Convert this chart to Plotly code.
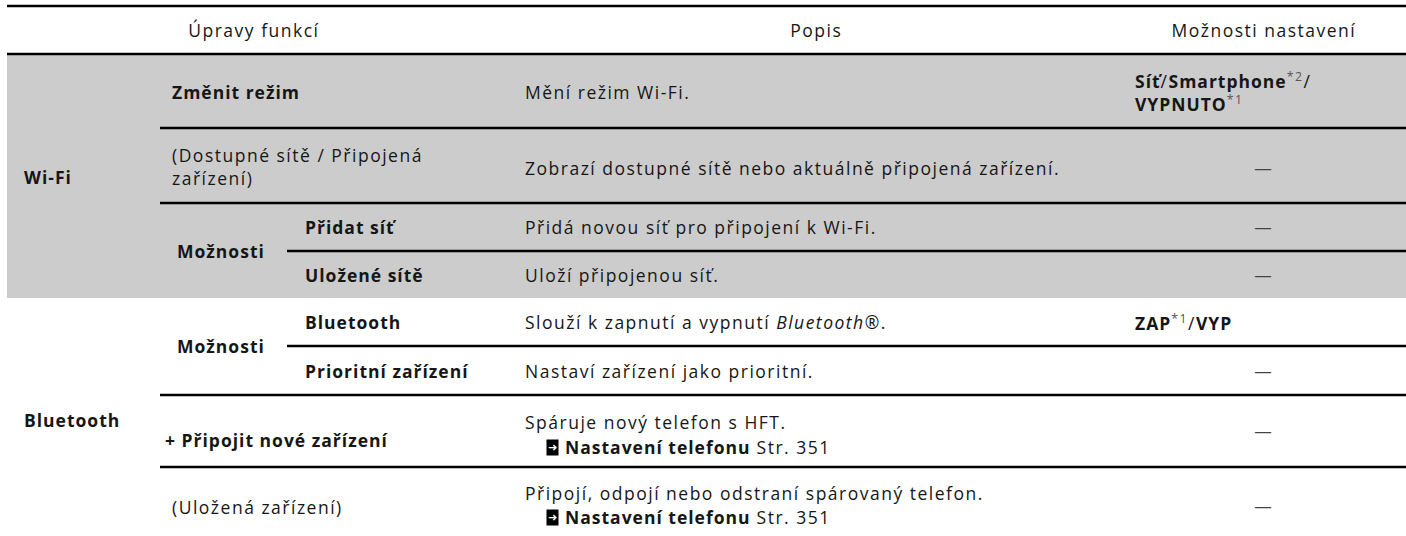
import plotly.graph_objects as go

# ---------------- data (table text) ----------------
header_labels = ["Úpravy funkcí", "Popis", "Možnosti nastavení"]
group_labels = ["Wi-Fi", "Bluetooth"]
item_labels = [
    "<b>Změnit režim</b>",
    "(Dostupné sítě / Připojená<br>zařízení)",
    "<b>Možnosti</b>",
    "<b>Možnosti</b>",
    "<b>+ Připojit nové zařízení</b>",
    "(Uložená zařízení)",
]
subitem_labels = ["Přidat síť", "Uložené sítě", "Bluetooth", "Prioritní zařízení"]
descriptions = [
    "Mění režim Wi-Fi.",
    "Zobrazí dostupné sítě nebo aktuálně připojená zařízení.",
    "Přidá novou síť pro připojení k Wi-Fi.",
    "Uloží připojenou síť.",
    "Slouží k zapnutí a vypnutí <i>Bluetooth</i>®.",
    "Nastaví zařízení jako prioritní.",
    "Spáruje nový telefon s HFT.",
    "Připojí, odpojí nebo odstraní spárovaný telefon.",
]
reference_text = "<b>Nastavení telefonu</b> Str. 351"
settings = [
    "<b>Síť</b>/<b>Smartphone</b><span style='color:#555'><sup>*2</sup></span>/<br><b>VYPNUTO</b><span style='color:#555'><sup>*1</sup></span>",
    "—", "—", "—",
    "<b>ZAP</b><span style='color:#555'><sup>*1</sup></span>/<b>VYP</b>",
    "—", "—", "—",
]

# ---------------- layout geometry ----------------
W, H = 1406, 536
FONT = "Open Sans"
FS = 17.5
TXT = "#161616"
row_edges = [55, 128, 203, 251, 298, 346, 395, 467, 545]
row_mid = [(row_edges[i] + row_edges[i + 1]) / 2 for i in range(8)]
x_left, x_c2, x_c3, x_desc, x_set = 7, 160, 287, 510, 1120
tx_c1, tx_c2, tx_c3, tx_desc, tx_set, tx_dash = 22, 170, 303, 523, 1133, 1264

fig = go.Figure()
fig.add_trace(go.Scatter(x=[0, W], y=[0, H], mode="markers", marker=dict(opacity=0), hoverinfo="skip", showlegend=False))

shapes = []
shapes.append(dict(type="rect", x0=x_left, x1=W, y0=row_edges[0], y1=row_edges[4], fillcolor="#cccccc", line=dict(width=0), layer="below"))
def hline(y, x0):
    shapes.append(dict(type="line", x0=x0, x1=W, y0=y, y1=y, line=dict(color="black", width=2.3)))
hline(6, x_left)
hline(54, x_left)
hline(row_edges[1], x_c2)
hline(row_edges[2], x_c2)
hline(row_edges[3], x_c3)
hline(row_edges[5], x_c3)
hline(row_edges[6], x_c2)
hline(row_edges[7], x_c2)

ann = []
def txt(x, y, s, xanchor="left", size=FS, color=TXT, **kw):
    ann.append(dict(x=x, y=y, xref="x", yref="y", text=s, showarrow=False, xanchor=xanchor, yanchor="middle",
                    align="left" if xanchor == "left" else "center", font=dict(family=FONT, size=size, color=color), **kw))

# headers
txt(254, 30, header_labels[0], "center")
txt(816, 30, header_labels[1], "center")
txt(1264, 30, header_labels[2], "center")

# groups
txt(tx_c1, 177, "<b>" + group_labels[0] + "</b>")
txt(tx_c1, 420, "<b>" + group_labels[1] + "</b>")

# items column 2
txt(tx_c2, row_mid[0], item_labels[0])
txt(tx_c2, row_mid[1] + 1, item_labels[1])
txt(tx_c2 + 5, row_edges[3], item_labels[2])
txt(tx_c2 + 5, row_edges[5], item_labels[3])
txt(tx_c2 - 7, 440, item_labels[4])
txt(tx_c2, 507, item_labels[5])

# sub-items column 3
for i, r in enumerate([2, 3, 4, 5]):
    txt(tx_c3, row_mid[r], "<b>" + subitem_labels[i] + "</b>")

# descriptions
desc_y = [row_mid[0], 168, row_mid[2], row_mid[3], row_mid[4], row_mid[5], 422, 493]
for i, d in enumerate(descriptions):
    txt(tx_desc, desc_y[i], d)
for y in (447, 517):
    ann.append(dict(x=546, y=y, xref="x", yref="y", text="➜", showarrow=False, xanchor="left", yanchor="middle",
                    font=dict(family="DejaVu Sans", size=11, color="white"), bgcolor="black", borderpad=1))
    txt(563, y, reference_text)

# settings
set_y = [row_mid[0], 168, row_mid[2], row_mid[3], row_mid[4], row_mid[5], 431, 506]
for i, s in enumerate(settings):
    if s == "—":
        txt(tx_dash, set_y[i], s, "center", color="#444")
    else:
        txt(tx_set, set_y[i], s)

fig.update_layout(
    width=W, height=H, margin=dict(l=0, r=0, t=0, b=0),
    paper_bgcolor="white", plot_bgcolor="white",
    xaxis=dict(range=[0, W], visible=False, fixedrange=True),
    yaxis=dict(range=[H, 0], visible=False, fixedrange=True),
    shapes=shapes, annotations=ann, showlegend=False,
)

post = """
var gd = document.getElementById('{plot_id}');
function fixStyle() {
  document.body.style.margin = '0';
  document.body.style.overflow = 'hidden';
  gd.querySelectorAll('.annotation-text').forEach(function (e) {
    if (e.textContent === '➜') { return; }
    e.style.letterSpacing = '1.5px';
    e.querySelectorAll('tspan').forEach(function (t) {
      if (t.style.fontWeight === 'bold') { t.style.letterSpacing = '1.0px'; }
    });
  });
}
fixStyle();
setTimeout(fixStyle, 50);
if (gd.on) { gd.on('plotly_afterplot', fixStyle); }
"""
fig.write_html("out.html", post_script=post, config={"displayModeBar": False, "staticPlot": True})
